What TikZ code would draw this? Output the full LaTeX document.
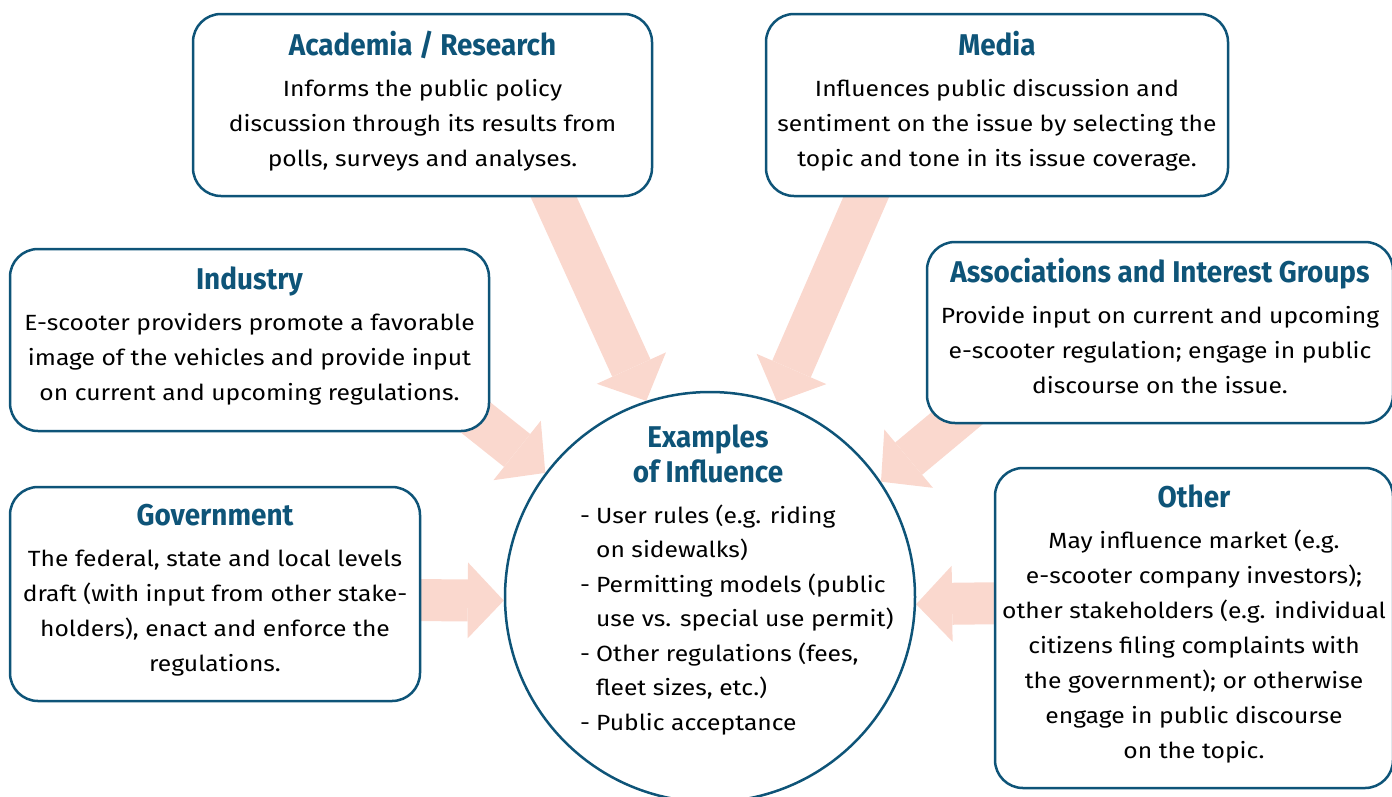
\documentclass[tikz,border=0pt]{standalone}
\usepackage{fontspec}
\setmainfont[FakeStretch=1.12]{Fira Sans}
\newfontfamily\headfont[FakeStretch=0.93]{Fira Sans}
\usetikzlibrary{arrows.meta}
\definecolor{infblue}{RGB}{14,84,120}
\definecolor{infpink}{RGB}{250,216,206}
\pgfdeclarelayer{background}
\pgfsetlayers{background,main}
\newcommand\bodyfont{\fontsize{22}{35}\selectfont}
\newcommand\cardhead[1]{{\headfont\bfseries\fontsize{30}{35}\selectfont\color{infblue}#1}\\[6pt]}
\tikzset{
  card/.style={draw=infblue, line width=2.5pt, rounded corners=28pt, fill=white,
    align=center, inner sep=0pt, font=\bodyfont,
    execute at end node={\rule[-13pt]{0pt}{0pt}}},
  push/.style={draw=infpink, line width=42pt,
    -{Triangle[length=36pt, width=76pt, line width=0pt]}}
}

\begin{document}
\begin{tikzpicture}[x=1pt, y=-1pt]
  \useasboundingbox (0,0) rectangle (1392,796);

  % centre circle
  \node[draw=infblue, line width=2.5pt, circle, minimum size=410pt, inner sep=0pt] (ex) at (710,597) {};
  \node[align=center, inner sep=0pt, text=infblue, font=\headfont\bfseries\fontsize{30}{35}\selectfont] (ex-head) at (708,454) {Examples\\of Influence};
  \node[anchor=west, inner sep=0pt, font=\fontsize{22}{34.5}\selectfont] (ex-list) at (580,620) {%
    \begin{tabular}{@{}l@{\hspace{6pt}}l@{}}
      - & User rules (e.g. riding\\
        & on sidewalks)\\
      - & Permitting models (public\\
        & use vs. special use permit)\\
      - & Other regulations (fees,\\
        & fleet sizes, etc.)\\
      - & Public acceptance
    \end{tabular}};

  % stakeholder cards
  \node[card, minimum width=459pt, minimum height=182pt] (acad) at (422.5,105)
    {\cardhead{Academia / Research}Informs the public policy\\discussion through its results from\\polls, surveys and analyses.};
  \node[card, minimum width=462pt, minimum height=182pt] (media) at (997,105)
    {\cardhead{Media}Influences public discussion and\\sentiment on the issue by selecting the\\topic and tone in its issue coverage.};
  \node[card, minimum width=479pt, minimum height=182pt] (indus) at (249.5,340)
    {\cardhead{Industry}E-scooter providers promote a favorable\\image of the vehicles and provide input\\on current and upcoming regulations.};
  \node[card, minimum width=466pt, minimum height=181pt] (assoc) at (1160,332.5)
    {\cardhead{Associations and Interest Groups}Provide input on current and upcoming\\e-scooter regulation; engage in public\\discourse on the issue.};
  \node[card, minimum width=410pt, minimum height=214pt] (gov) at (215,594)
    {\cardhead{Government}The federal, state and local levels\\draft (with input from other stake-\\holders), enact and enforce the\\regulations.};
  \node[card, minimum width=398pt, minimum height=320pt] (other) at (1194,628)
    {\cardhead{Other}May influence market (e.g.\\e-scooter company investors);\\other stakeholders (e.g. individual\\citizens filing complaints with\\the government); or otherwise\\engage in public discourse\\on the topic.};

  % arrow tails sit under the cards
  \coordinate (acad-out) at (535,156);
  \coordinate (media-out) at (884,156);
  \coordinate (indus-out) at (445,393);
  \coordinate (assoc-out) at (985,395);
  \coordinate (gov-out) at (400,600);
  \coordinate (other-out) at (1015,603);

  \begin{pgfonlayer}{background}
    \draw[push] (acad-out) -- (ex.108);
    \draw[push] (media-out) -- (ex.71.5);
    \draw[push] (indus-out) -- (ex.143);
    \draw[push] (assoc-out) -- (ex.34);
    \draw[push] (gov-out) -- (ex.181);
    \draw[push] (other-out) -- (ex.-2);
  \end{pgfonlayer}
\end{tikzpicture}
\end{document}
